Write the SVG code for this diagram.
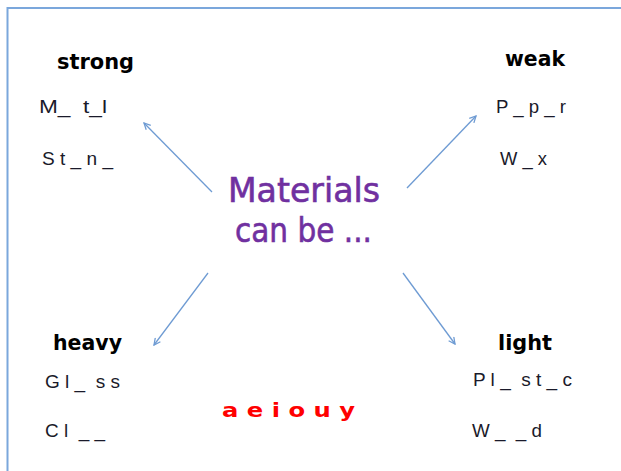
<svg xmlns="http://www.w3.org/2000/svg" width="621" height="471" viewBox="0 0 621 471">
<defs>
<style>
.head{font-family:"DejaVu Sans",sans-serif;font-weight:bold;font-size:21px;fill:#000}
.hint{font-family:"Liberation Sans",Arial,sans-serif;font-size:18px;fill:#1a1a2a}
.conn{stroke:#6E9BD3;stroke-width:1.3;fill:none}
.main{font-family:"DejaVu Sans",sans-serif;font-size:33px;fill:#7030A0}
.vow{font-family:"DejaVu Sans",sans-serif;font-weight:bold;font-size:20px;fill:#FF0000}
</style>
<marker id="arr" viewBox="0 0 10 10" refX="9" refY="5" markerWidth="8" markerHeight="8" orient="auto" markerUnits="userSpaceOnUse">
<path d="M1,1 L9,5 L1,9" fill="none" stroke="#6E9BD3" stroke-width="1.6"/>
</marker>
</defs>
<rect width="621" height="471" fill="#fff"/>
<path d="M7.5,471 V8 H621" fill="none" stroke="#7BA7DC" stroke-width="2"/>
<g id="connectors">
<line class="conn" x1="212" y1="192" x2="144" y2="123" marker-end="url(#arr)"/>
<line class="conn" x1="407" y1="188" x2="476" y2="116" marker-end="url(#arr)"/>
<line class="conn" x1="208" y1="273" x2="154" y2="345" marker-end="url(#arr)"/>
<line class="conn" x1="403" y1="273" x2="455" y2="344" marker-end="url(#arr)"/>
</g>
<g id="center">
<text class="main" x="228" y="202" textLength="152" lengthAdjust="spacingAndGlyphs" stroke="#7030A0" stroke-width="0.6">Materials</text>
<text class="main" x="235" y="242" textLength="137" lengthAdjust="spacingAndGlyphs" stroke="#7030A0" stroke-width="0.6">can be ...</text>
</g>
<g id="strong">
<text class="head" x="57" y="69" textLength="77" lengthAdjust="spacingAndGlyphs">strong</text>
<text class="hint" x="39" y="113" xml:space="preserve" textLength="68" lengthAdjust="spacingAndGlyphs">M_  t_l</text>
<text class="hint" x="42" y="165" xml:space="preserve" textLength="71" lengthAdjust="spacingAndGlyphs">S t _ n _</text>
</g>
<g id="weak">
<text class="head" x="505" y="66" textLength="60" lengthAdjust="spacingAndGlyphs">weak</text>
<text class="hint" x="496" y="113" xml:space="preserve" textLength="70" lengthAdjust="spacingAndGlyphs">P _ p _ r</text>
<text class="hint" x="500" y="165" xml:space="preserve" textLength="47" lengthAdjust="spacingAndGlyphs">W _ x</text>
</g>
<g id="heavy">
<text class="head" x="53" y="350" textLength="69" lengthAdjust="spacingAndGlyphs">heavy</text>
<text class="hint" x="45" y="388" xml:space="preserve" textLength="75" lengthAdjust="spacingAndGlyphs">G l _  s s</text>
<text class="hint" x="45" y="437" xml:space="preserve" textLength="60" lengthAdjust="spacingAndGlyphs">C l  _ _</text>
</g>
<g id="light">
<text class="head" x="498" y="350" textLength="54" lengthAdjust="spacingAndGlyphs">light</text>
<text class="hint" x="473" y="386" xml:space="preserve" textLength="99" lengthAdjust="spacingAndGlyphs">P l _  s t _ c</text>
<text class="hint" x="472" y="437" xml:space="preserve" textLength="70" lengthAdjust="spacingAndGlyphs">W _  _ d</text>
</g>
<g id="vowels">
<text class="vow" x="222" y="417" xml:space="preserve" textLength="133" lengthAdjust="spacingAndGlyphs">a e i o u y</text>
</g>
</svg>
